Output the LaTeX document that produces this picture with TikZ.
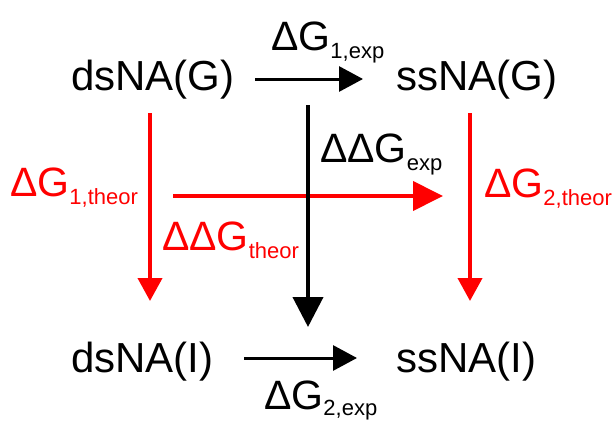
\documentclass[tikz,border=0pt]{standalone}
\usepackage{fontspec}
\setmainfont{Liberation Sans}
\usetikzlibrary{arrows.meta}
\newcommand\bigtxt{\fontsize{42}{50}\selectfont}
\newcommand\lbltxt{\fontsize{41}{49}\selectfont}
\newcommand\subtxt[1]{\raisebox{-8pt}{\fontsize{22}{26}\selectfont #1}}
\newcommand\lowsubtxt[1]{\raisebox{-6pt}{\fontsize{22}{26}\selectfont #1}}
\tikzset{
  species/.style={inner sep=0pt, anchor=base west, font=\bigtxt},
  energy/.style={inner sep=0pt, anchor=base west, font=\lbltxt},
  blackarrow/.style={draw=black, line width=3pt, -{Triangle[length=24pt,width=25pt]}},
  bigblackarrow/.style={draw=black, line width=4pt, -{Triangle[length=30pt,width=30pt]}},
  redarrow/.style={draw=red, line width=4pt, -{Triangle[length=23pt,width=24pt]}},
  bigredarrow/.style={draw=red, line width=4pt, -{Triangle[length=30pt,width=29pt]}},
}
\begin{document}
\begin{tikzpicture}[x=1pt,y=-1pt]
\useasboundingbox (0,0) rectangle (614,423);
% species
\node[species] (dsG) at (71,90) {dsNA(G)};
\node[species] (ssG) at (396,90) {ssNA(G)};
\node[species] (dsI) at (71,372) {dsNA(I)};
\node[species] (ssI) at (396,372) {ssNA(I)};
% connector end points
\coordinate (topS) at (255,79);
\coordinate (topE) at (363,79);
\coordinate (botS) at (244,358);
\coordinate (botE) at (357,358);
\coordinate (midS) at (308,105);
\coordinate (midE) at (308,327);
\coordinate (leftS) at (150,113);
\coordinate (leftE) at (150,301);
\coordinate (rightS) at (470,113);
\coordinate (rightE) at (470,301);
\coordinate (horS) at (173,196);
\coordinate (horE) at (443,196);
% arrows
\draw[blackarrow] (topS) -- (topE);
\draw[blackarrow] (botS) -- (botE);
\draw[redarrow] (leftS) -- (leftE);
\draw[redarrow] (rightS) -- (rightE);
\draw[bigredarrow] (horS) -- (horE);
\draw[bigblackarrow] (midS) -- (midE);
% labels
\node[energy] (g1exp) at (271,50) {ΔG\subtxt{1,exp}};
\node[energy] (g2exp) at (264,409) {ΔG\lowsubtxt{2,exp}};
\node[energy] (ddgexp) at (320,162) {ΔΔG\subtxt{exp}};
\node[energy, text=red] (g1th) at (10,196) {ΔG\subtxt{1,theor}};
\node[energy, text=red] (g2th) at (484,197) {ΔG\subtxt{2,theor}};
\node[energy, text=red] (ddgth) at (162,250) {ΔΔG\subtxt{theor}};
\end{tikzpicture}
\end{document}
